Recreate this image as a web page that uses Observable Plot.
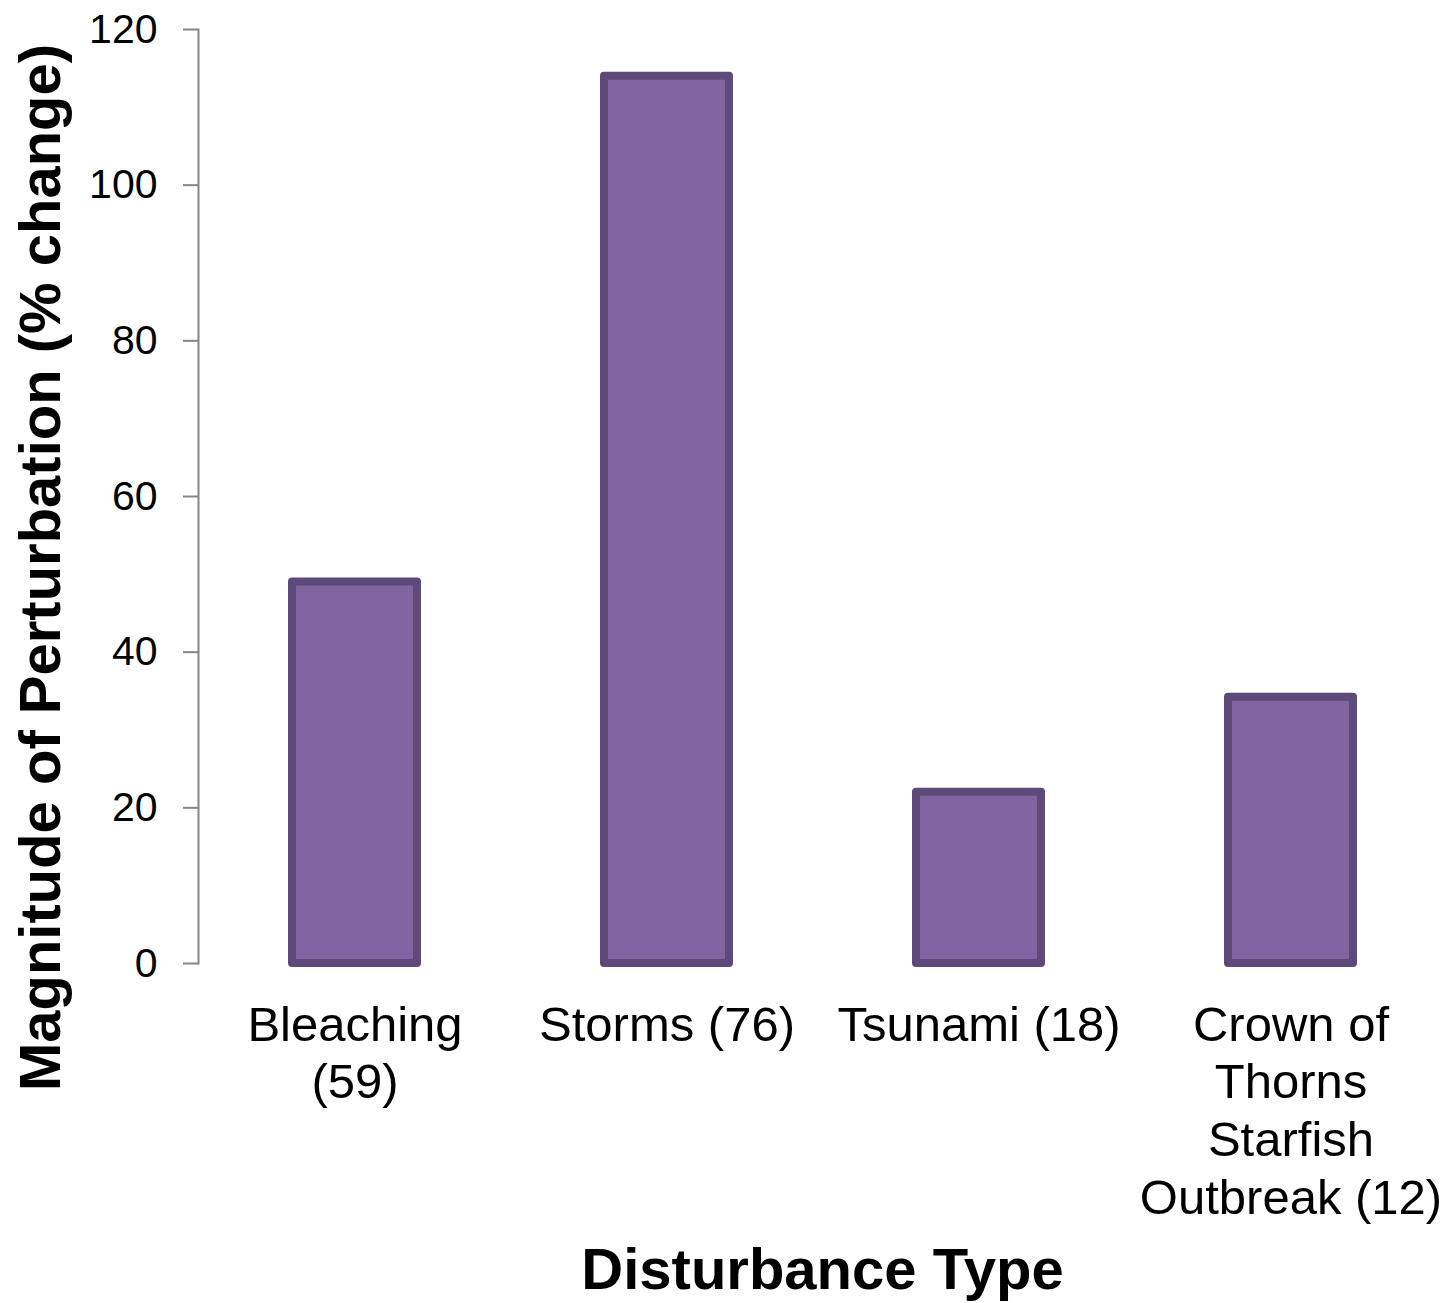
<!DOCTYPE html>
<html>
<head>
<meta charset="utf-8">
<script src="https://cdn.jsdelivr.net/npm/d3@7"></script>
<script src="https://cdn.jsdelivr.net/npm/@observablehq/plot@0.6"></script>
<style>
  html, body { margin: 0; padding: 0; background: #fff; }
  #chart { width: 1452px; height: 1303px; }
</style>
</head>
<body>
<div id="chart"></div>
<script>
const categories = ["Bleaching\n(59)", "Storms (76)", "Tsunami (18)", "Crown of\nThorns\nStarfish\nOutbreak (12)"];
const values = [49, 114, 22, 34.2];
const yTicks = [0, 20, 40, 60, 80, 100, 120];
const xTitle = "Disturbance Type";
const yTitle = "Magnitude of Perturbation (% change)";

const data = categories.map((c, i) => ({cat: c, val: values[i]}));

const chart = Plot.plot({
  width: 1452,
  height: 1303,
  marginLeft: 198,
  marginRight: 6,
  marginTop: 29,
  marginBottom: 340,
  style: {fontFamily: "'Liberation Sans', Arial, sans-serif", color: "#000", background: "#fff"},
  x: {domain: categories, paddingInner: 0.6, paddingOuter: 0.3, axis: null},
  y: {domain: [0, 120], axis: null},
  marks: [
    Plot.barY(data, {x: "cat", y: "val", fill: "#8064A2", stroke: "#5E4A78", strokeWidth: 8, strokeLinejoin: "round"}),
    Plot.frame({anchor: "left", stroke: "#868686", strokeWidth: 2}),
    Plot.axisY({ticks: yTicks, tickSize: 15, tickPadding: 26, fontSize: 41, stroke: "#868686", strokeWidth: 2, fill: "#000", label: null, tickFormat: d => String(d)}),
    Plot.axisX({tickSize: 0, tickPadding: 36, fontSize: 49, lineHeight: 1.18, fill: "#000", label: null}),
    Plot.text([xTitle], {text: d => d, frameAnchor: "bottom", textAnchor: "middle", lineAnchor: "top", dy: 284, fontSize: 58, fontWeight: "bold", fill: "#000"}),
    Plot.text([yTitle], {text: d => d, frameAnchor: "left", textAnchor: "middle", rotate: -90, lineAnchor: "top", dx: -180, dy: 71, fontSize: 58, fontWeight: "bold", fill: "#000"})
  ]
});
document.getElementById("chart").appendChild(chart);
</script>
</body>
</html>
